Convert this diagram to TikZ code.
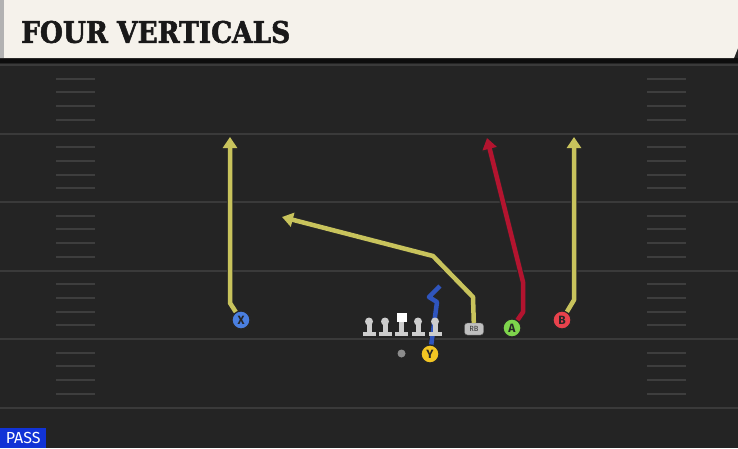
\documentclass[tikz,border=0pt]{standalone}
\usepackage{fontspec}
\setsansfont{Fira Sans}
\newfontfamily\titlefont{DejaVu Serif}[BoldFeatures={FakeBold=2}]
\usetikzlibrary{arrows.meta}
\definecolor{fieldgray}{HTML}{242424}
\definecolor{yardline}{HTML}{3A3A3A}
\definecolor{hashgray}{HTML}{3E3E3E}
\definecolor{headercream}{HTML}{F5F2EB}
\definecolor{routeyellow}{HTML}{C8C35C}
\definecolor{routered}{HTML}{B3142F}
\definecolor{routeblue}{HTML}{2F55BE}
\definecolor{xblue}{HTML}{4A7FE0}
\definecolor{yyellow}{HTML}{F3C623}
\definecolor{agreen}{HTML}{7ED44C}
\definecolor{bred}{HTML}{E8424C}
\definecolor{passblue}{HTML}{1133D6}
\definecolor{linegray}{HTML}{CDCDCD}
\tikzset{
  player/.style={circle,draw=black!85,line width=1.2pt,minimum size=18pt,inner sep=0pt,
    font=\sffamily\bfseries\fontsize{12}{12}\selectfont,text=black!85},
  route/.style={draw=#1,line width=4.5pt,line join=round,-{Triangle[length=11pt,width=14pt]},
    preaction={draw=black!85,line width=6.5pt,line join=round,-{Triangle[length=13pt,width=17pt]}}},
  plainroute/.style={draw=#1,line width=4.5pt,line join=round,
    preaction={draw=black!85,line width=6.5pt,line join=round}},
  lineman/.style={fill=linegray,draw=none}
}
\begin{document}
\begin{tikzpicture}[x=1pt,y=-1pt]
    \useasboundingbox (0,0) rectangle (738,448);
    %Field
    \fill[fieldgray] (0,0) rectangle (738,448);
    \fill[black!95] (0,58) rectangle (738,63);
    %Yard lines
    \foreach \k in {0,...,5}
      \draw[yardline,line width=2pt] (0,65+68.5*\k) -- (738,65+68.5*\k);
    %Hash marks
    \foreach \k in {0,...,4}
      \foreach \j in {1,...,4}{
        \draw[hashgray,line width=2pt] (56,65+68.5*\k+13.7*\j) -- (95,65+68.5*\k+13.7*\j);
        \draw[hashgray,line width=2pt] (647,65+68.5*\k+13.7*\j) -- (686,65+68.5*\k+13.7*\j);
      }
    %Header
    \fill[headercream] (0,0) -- (738,0) -- (738,48) -- (734,58) -- (0,58) -- cycle;
    \fill[black!30] (0,0) rectangle (4,58);
    \node[anchor=west,inner sep=0pt,text=black!90] (title) at (21,32)
      {\resizebox{269pt}{22pt}{\titlefont\bfseries FOUR VERTICALS}};
    %Players
    \node[player,fill=xblue] (X) at (241,320) {X};
    \node[player,fill=yyellow] (Y) at (430,354) {Y};
    \node[player,fill=agreen] (A) at (512,328) {A};
    \node[player,fill=bred] (B) at (562,320) {B};
    \node[rounded corners=3pt,fill=black!25,draw=black!60,minimum width=19pt,minimum height=12pt,
      inner sep=0pt,font=\sffamily\fontsize{7.5}{7.5}\selectfont,text=black!80] (RB) at (474,329) {RB};
    \node[circle,fill=black!45,minimum size=8pt,inner sep=0pt] (ball) at (401.5,353.5) {};
    %Routes
    \draw[route=routeyellow] (X) -- (230,303) -- (230,137);
    \draw[route=routeyellow] (B) -- (574,300) -- (574,137);
    \draw[route=routered] (A) -- (523,312) -- (523,282) -- (487,138);
    \draw[route=routeyellow] (RB) -- (473,297) -- (433,256) -- (282,217);
    \draw[plainroute=routeblue] (Y) -- (437,302) -- (429,297) -- (440,286);
    %Line
    \foreach \x in {369,385,418,435}{
      \fill[lineman] (\x,321.5) circle (4);
      \fill[lineman] (\x-2.5,321.5) rectangle (\x+2.5,333);
      \fill[lineman] (\x-6.5,331.5) rectangle (\x+6.5,336);
    }
    \fill[white] (397,313) rectangle (406.5,322);
    \fill[lineman] (399.2,322) rectangle (404.2,333);
    \fill[lineman] (395.2,331.5) rectangle (408.2,336);
    %Play type
    \node[fill=passblue,anchor=south west,minimum width=46pt,minimum height=20pt,inner sep=0pt,
      font=\sffamily\fontsize{16}{16}\selectfont,text=white] (pass) at (0,448) {PASS};
\end{tikzpicture}
\end{document}
